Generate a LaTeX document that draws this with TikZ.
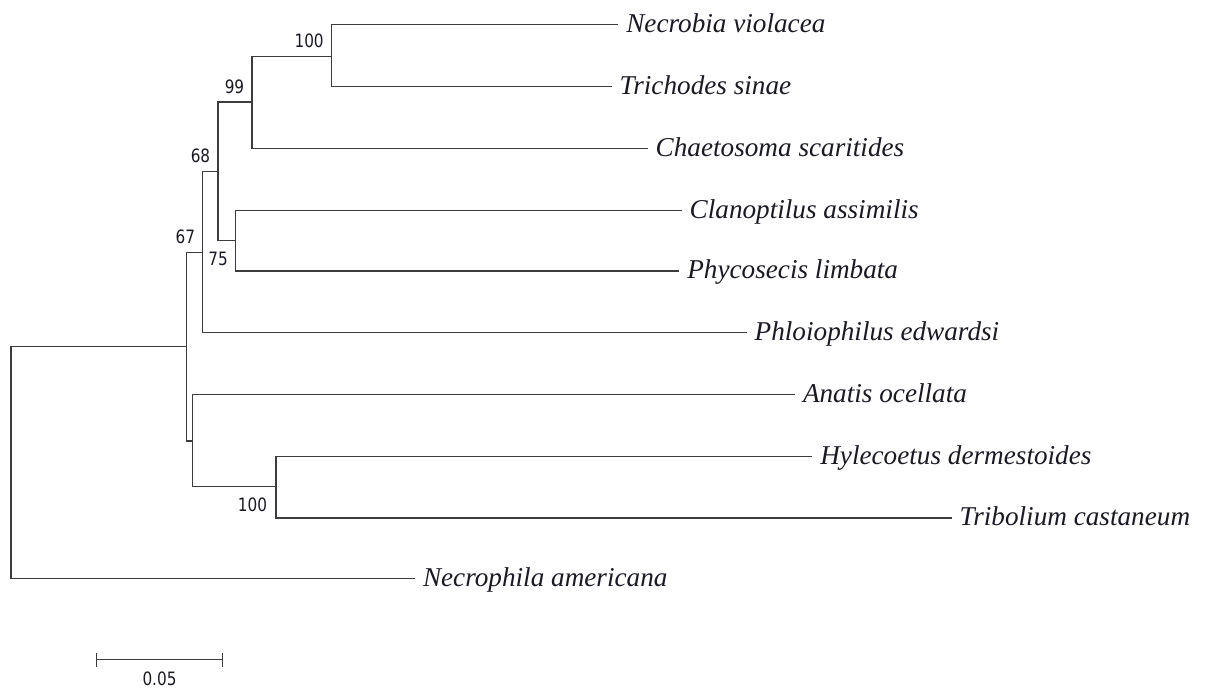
\documentclass[tikz,border=0pt]{standalone}
\usepackage{fontspec}
\setmainfont{Liberation Serif}
\newfontfamily\bootfont[FakeStretch=0.83]{DejaVu Sans}
\usepackage{xcolor}
\usepackage{tikz}
\usetikzlibrary{positioning}
\definecolor{treegray}{HTML}{3C3C3C}
\definecolor{labelink}{HTML}{1A1A24}

\begin{document}
\begin{tikzpicture}[
        x=0.5pt, y=-0.5pt,
        branch/.style={draw=treegray, line width=0.6pt},
        taxon/.style={font=\fontsize{13.6}{15}\selectfont\itshape,
                inner sep=0pt, text=labelink},
        boot/.style={font=\bootfont\fontsize{9.2}{10}\selectfont,
                inner sep=0pt, text=labelink},
    ]
    \useasboundingbox (0,0) rectangle (1205,690);

    % tips and their names
    \foreach \tname/\tx/\ty/\ttext in {
            tNv/618.3/24.6/Necrobia violacea,
            tTs/611.7/86.7/Trichodes sinae,
            tCs/647.7/148.3/Chaetosoma scaritides,
            tCa/681.7/210.3/Clanoptilus assimilis,
            tPl/679.3/271.0/Phycosecis limbata,
            tPe/746.7/332.7/Phloiophilus edwardsi,
            tAo/795.0/394.3/Anatis ocellata,
            tHd/812.3/456.3/Hylecoetus dermestoides,
            tTc/951.7/518.0/Tribolium castaneum,
            tNa/415.0/578.7/Necrophila americana} {
        \coordinate (\tname) at (\tx, \ty);
        \node[taxon, anchor=base west] (\tname-lbl)
            at ([xshift=3.8pt, yshift=-3.9pt]\tname) {\ttext};
    }

    % internal nodes
    \coordinate (n100a) at (331.5, 56.7);
    \coordinate (n99)   at (252.0, 102.0);
    \coordinate (n75)   at (235.7, 240.3);
    \coordinate (n68)   at (218.0, 171.7);
    \coordinate (n67)   at (202.7, 252.3);
    \coordinate (n100b) at (276.0, 486.3);
    \coordinate (nAH)   at (192.7, 441.0);
    \coordinate (nIn)   at (186.3, 346.3);
    \coordinate (nRoot) at ( 11.0, 462.5);

    \draw[branch] (tNv) -| (n100a) |- (tTs);
    \draw[branch] (n100a) -| (n99) |- (tCs);
    \draw[branch] (tCa) -| (n75) |- (tPl);
    \draw[branch] (n99) -| (n68) |- (n75);
    \draw[branch] (n68) -| (n67) |- (tPe);
    \draw[branch] (tHd) -| (n100b) |- (tTc);
    \draw[branch] (tAo) -| (nAH) |- (n100b);
    \draw[branch] (n67) -| (nIn) |- (nAH);
    \draw[branch] (nIn) -| (nRoot) |- (tNa);

    % bootstrap values
    \node[boot, above left=4.1pt and 3.7pt of n100a] (b100a) {100};
    \node[boot, above left=4.0pt and 3.7pt of n99] (b99) {99};
    \node[boot, above left=4.1pt and 3.7pt of n68] (b68) {68};
    \node[boot, above left=4.0pt and 3.6pt of n67] (b67) {67};
    \node[boot, below left=5.7pt and 3.7pt of n75] (b75) {75};
    \node[boot, below left=5.7pt and 4.3pt of n100b] (b100b) {100};

    % scale bar
    \coordinate (sbL) at ( 96.7, 659.5);
    \coordinate (sbR) at (222.3, 659.5);
    \coordinate (sbM) at (159.5, 659.5);
    \draw[branch] (sbL) -- (sbR);
    \draw[branch] ([yshift=3.5pt]sbL) -- ([yshift=-3.5pt]sbL);
    \draw[branch] ([yshift=3.5pt]sbR) -- ([yshift=-3.5pt]sbR);
    \node[boot, below=6.1pt of sbM] (sbLbl) {0.05};
\end{tikzpicture}
\end{document}
